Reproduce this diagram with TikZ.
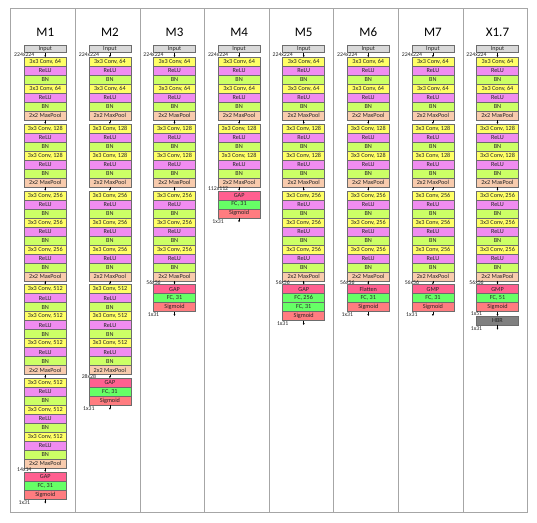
\documentclass[tikz,border=0pt]{standalone}
\usepackage{fontspec}
\setmainfont{Carlito}
\usepackage{xcolor}
\usetikzlibrary{arrows.meta,positioning}

\definecolor{inpcol}{HTML}{D9D9D9}
\definecolor{convcol}{HTML}{FFFF66}
\definecolor{relucol}{HTML}{F08CF0}
\definecolor{bncol}{HTML}{CCFF66}
\definecolor{poolcol}{HTML}{F8CBAD}
\definecolor{gpcol}{HTML}{FF6090}
\definecolor{fccol}{HTML}{66FF66}
\definecolor{sigcol}{HTML}{FF7C80}
\definecolor{hbrcol}{HTML}{808080}

\begin{document}
\begin{tikzpicture}[x=1pt, y=-1pt,
  layer/.style={draw=gray!85!black, line width=0.5pt, minimum width=42pt, minimum height=9pt,
                inner sep=0pt, outer sep=0pt, font=\fontsize{6.2}{7}\selectfont, text=black!85},
  inbox/.style={layer, fill=inpcol, minimum height=7.5pt},
  convbox/.style={layer, fill=convcol},
  relubox/.style={layer, fill=relucol},
  bnbox/.style={layer, fill=bncol},
  poolbox/.style={layer, fill=poolcol},
  gpbox/.style={layer, fill=gpcol},
  fcbox/.style={layer, fill=fccol},
  sigbox/.style={layer, fill=sigcol},
  hbrbox/.style={layer, fill=hbrcol},
  flow/.style={-{Latex[length=2pt, width=2pt]}, line width=0.45pt, black},
  dim/.style={font=\fontsize{5.8}{6}\selectfont, inner sep=0pt, text=black!85},
  coltitle/.style={font=\fontsize{13}{14}\selectfont},
  frame/.style={draw=gray!70, line width=0.8pt}]

\useasboundingbox (0,0) rectangle (537,522);

% frame and column separators
\draw[frame] (10.7,8.3) rectangle (527.5,512.3);
\foreach \i in {1,...,7} {\draw[frame] ({10.7+64.6*\i},8.3) -- ({10.7+64.6*\i},512.3);}

% backbones
\foreach \col/\name/\nb [count=\ci] in {m1/M1/5, m2/M2/4, m3/M3/3, m4/M4/2, m5/M5/3, m6/M6/3, m7/M7/3, x17/X1.7/3} {
  \pgfmathsetmacro{\cx}{45.3+64.6*(\ci-1)}
  \node[coltitle] (\col-title) at (\cx,32) {\name};
  \node[inbox] (\col-in) at (\cx,48.95) {Input};
  \node[dim] (\col-d0) at (\cx-21,55) {224x224};
  \foreach \blk/\nc/\ch/\y in {1/2/64/61.8, 2/2/128/128.55, 3/3/256/195.3, 4/3/512/289.05, 5/3/512/382.8} {
    \ifnum\blk>\nb\relax\else
      \foreach \cv in {1,...,\nc} {
        \node[convbox] (\col-\blk-conv\cv) at (\cx,{\y+27*(\cv-1)}) {3x3 Conv, \ch};
        \node[relubox, below=0pt of \col-\blk-conv\cv] (\col-\blk-relu\cv) {ReLU};
        \node[bnbox, below=0pt of \col-\blk-relu\cv] (\col-\blk-bn\cv) {BN};
      }
      \node[poolbox, below=0pt of \col-\blk-bn\nc] (\col-\blk-pool) {2x2 MaxPool};
    \fi
  }
  \draw[flow] (\col-in) -- (\col-1-conv1);
  \foreach \blk in {2,...,\nb} {
    \pgfmathtruncatemacro{\pb}{\blk-1}
    \draw[flow] (\col-\pb-pool) -- (\col-\blk-conv1);
  }
}

% heads
\foreach \col/\nb/\dm/\hd/\cls in {m1/5/14x14/GAP/31, m2/4/28x28/GAP/31, m3/3/56x56/GAP/31, m4/2/112x112/GAP/31, m6/3/56x56/Flatten/31, m7/3/56x56/GMP/31} {
  \node[gpbox, below=3.75pt of \col-\nb-pool] (\col-h1) {\hd};
  \node[fcbox, below=0pt of \col-h1] (\col-h2) {FC, \cls};
  \node[sigbox, below=0pt of \col-h2] (\col-h3) {Sigmoid};
  \draw[flow] (\col-\nb-pool) -- (\col-h1);
  \node[dim] (\col-d1) at ([yshift=2pt]\col-h1.north west) {\dm};
  \coordinate (\col-out) at ([yshift=-4.6pt]\col-h3.south);
  \draw[flow] (\col-h3) -- (\col-out);
  \node[dim] (\col-d2) at ([yshift=-3.5pt]\col-h3.south west) {1x\cls};
}

% M5
\node[gpbox, below=3.75pt of m5-3-pool] (m5-h1) {GAP};
\node[fcbox, below=0pt of m5-h1] (m5-h2) {FC, 256};
\node[fcbox, below=0pt of m5-h2] (m5-h3) {FC, 31};
\node[sigbox, below=0pt of m5-h3] (m5-h4) {Sigmoid};
\draw[flow] (m5-3-pool) -- (m5-h1);
\node[dim] (m5-d1) at ([yshift=2pt]m5-h1.north west) {56x56};
\coordinate (m5-out) at ([yshift=-4.6pt]m5-h4.south);
\draw[flow] (m5-h4) -- (m5-out);
\node[dim] (m5-d2) at ([yshift=-3.5pt]m5-h4.south west) {1x31};

% X1.7
\node[gpbox, below=3.75pt of x17-3-pool] (x17-h1) {GMP};
\node[fcbox, below=0pt of x17-h1] (x17-h2) {FC, 51};
\node[sigbox, below=0pt of x17-h2] (x17-h3) {Sigmoid};
\node[hbrbox, below=4.6pt of x17-h3] (x17-h4) {HBR};
\draw[flow] (x17-3-pool) -- (x17-h1);
\draw[flow] (x17-h3) -- (x17-h4);
\node[dim] (x17-d1) at ([yshift=2pt]x17-h1.north west) {56x56};
\node[dim] (x17-d2) at ([yshift=-2.3pt]x17-h3.south west) {1x51};
\coordinate (x17-out) at ([yshift=-4.6pt]x17-h4.south);
\draw[flow] (x17-h4) -- (x17-out);
\node[dim] (x17-d3) at ([yshift=-3.5pt]x17-h4.south west) {1x31};

\end{tikzpicture}
\end{document}
